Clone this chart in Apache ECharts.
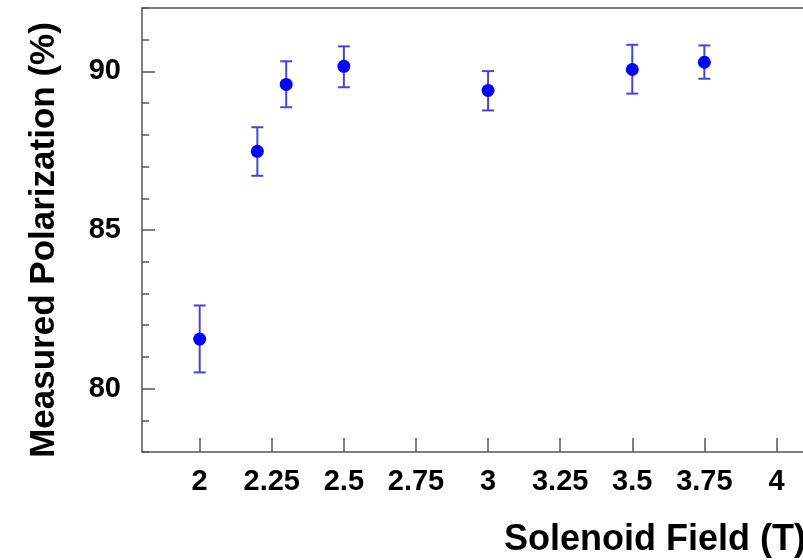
<!DOCTYPE html>
<html>
<head>
<meta charset="utf-8">
<script src="https://cdn.jsdelivr.net/npm/echarts@6/dist/echarts.min.js"></script>
<style>
  html, body { margin: 0; padding: 0; background: #fff; }
  #chart { width: 803px; height: 560px; }
</style>
</head>
<body>
<div id="chart"></div>
<script>
// Solenoid field (T) and measured polarization (%) with error-bar limits
const fieldT = [2, 2.2, 2.3, 2.5, 3, 3.5, 3.75];
const polarization = [81.56, 87.48, 89.59, 90.16, 89.40, 90.06, 90.29];
const errLow = [80.51, 86.71, 88.87, 89.50, 88.77, 89.30, 89.77];
const errHigh = [82.62, 88.24, 90.32, 90.79, 90.01, 90.84, 90.82];

// Tick labels
const xTickLabels = [2, 2.25, 2.5, 2.75, 3, 3.25, 3.5, 3.75, 4];
const yTickLabels = [80, 85, 90];

const FONT = 'Liberation Sans, Arial, Helvetica, sans-serif';
const AXIS_COLOR = '#555';

const points = fieldT.map((x, i) => [x, polarization[i]]);
const bars = fieldT.map((x, i) => [x, errLow[i], errHigh[i]]);

const chart = echarts.init(document.getElementById('chart'), null, { renderer: 'canvas' });

const X_MIN = 1.8, X_MAX = 4.092;

chart.setOption({
  animation: false,
  backgroundColor: '#fff',
  grid: { left: 142, top: 8, right: 0, bottom: 108, show: false, outerBoundsMode: 'none' },
  xAxis: [
    {
      type: 'value',
      min: X_MIN, max: X_MAX,
      position: 'bottom',
      name: 'Solenoid Field (T)',
      nameLocation: 'end',
      nameGap: 3,
      nameTextStyle: {
        fontFamily: FONT, fontWeight: 'bold', fontSize: 36, color: '#000',
        align: 'right', verticalAlign: 'top', padding: [70, 0, 0, 0]
      },
      axisLine: { show: true, lineStyle: { color: AXIS_COLOR, width: 1.5 } },
      axisTick: { show: true, inside: true, length: 14, customValues: xTickLabels,
        lineStyle: { color: AXIS_COLOR, width: 1.5 } },
      axisLabel: { customValues: xTickLabels, margin: 15,
        fontFamily: FONT, fontWeight: 'bold', fontSize: 29, color: '#000' },
      splitLine: { show: false }
    },
    {
      // top frame line
      type: 'value',
      min: X_MIN, max: X_MAX,
      position: 'top',
      axisLine: { show: true, lineStyle: { color: AXIS_COLOR, width: 1.5 } },
      axisTick: { show: false },
      axisLabel: { show: false },
      splitLine: { show: false }
    }
  ],
  yAxis: [
    {
      type: 'value',
      min: 78, max: 92, interval: 1,
      position: 'left',
      name: 'Measured Polarization (%)',
      nameLocation: 'middle',
      nameRotate: 90,
      nameGap: 80,
      nameTextStyle: {
        fontFamily: FONT, fontWeight: 'bold', fontSize: 35, color: '#000',
        padding: [0, 20, 0, 0]
      },
      axisLine: { show: true, lineStyle: { color: AXIS_COLOR, width: 1.5 } },
      axisTick: { show: true, inside: true, length: 7, lineStyle: { color: AXIS_COLOR, width: 1.5 } },
      axisLabel: { customValues: yTickLabels, margin: 21,
        fontFamily: FONT, fontWeight: 'bold', fontSize: 29, color: '#000' },
      splitLine: { show: false }
    },
    {
      // longer ticks at the labelled values
      type: 'value',
      min: 78, max: 92,
      position: 'left',
      axisLine: { show: false },
      axisTick: { show: true, inside: true, length: 13, customValues: yTickLabels,
        lineStyle: { color: AXIS_COLOR, width: 1.5 } },
      axisLabel: { show: false },
      splitLine: { show: false }
    }
  ],
  series: [
    {
      type: 'custom',
      name: 'error',
      xAxisIndex: 0,
      yAxisIndex: 0,
      z: 2,
      data: bars,
      renderItem: function (params, api) {
        const x = api.value(0);
        const lo = api.coord([x, api.value(1)]);
        const hi = api.coord([x, api.value(2)]);
        const hw = 6;
        const style = { stroke: '#4646d2', lineWidth: 2 };
        return {
          type: 'group',
          children: [
            { type: 'line', shape: { x1: lo[0], y1: lo[1], x2: hi[0], y2: hi[1] }, style: style },
            { type: 'line', shape: { x1: hi[0] - hw, y1: hi[1], x2: hi[0] + hw, y2: hi[1] }, style: style },
            { type: 'line', shape: { x1: lo[0] - hw, y1: lo[1], x2: lo[0] + hw, y2: lo[1] }, style: style }
          ]
        };
      }
    },
    {
      type: 'scatter',
      name: 'Polarization',
      xAxisIndex: 0,
      yAxisIndex: 0,
      z: 3,
      symbol: 'circle',
      symbolSize: 13,
      itemStyle: { color: '#0000ff', opacity: 1 },
      data: points
    }
  ]
});
</script>
</body>
</html>
